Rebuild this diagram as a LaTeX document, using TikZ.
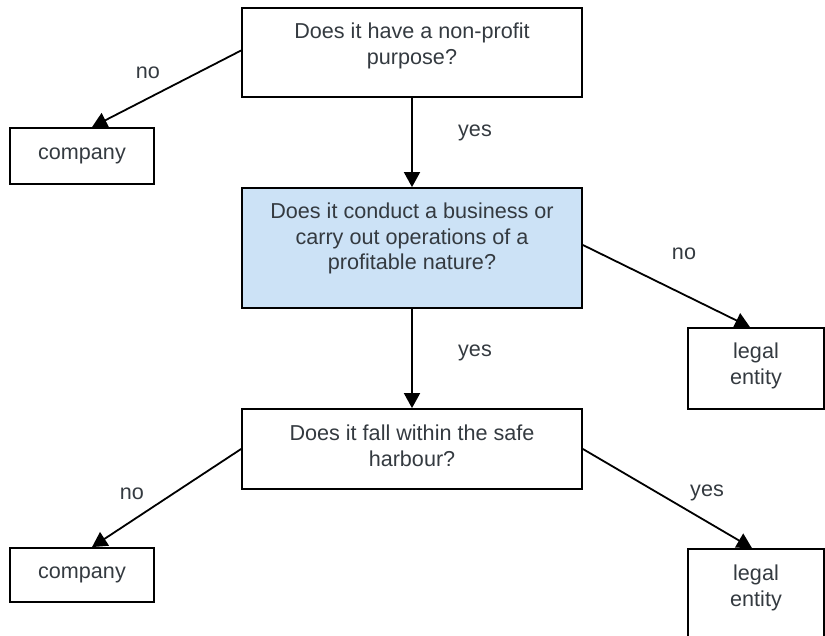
\documentclass[tikz,border=0pt]{standalone}
\usepackage{fontspec}
\setmainfont{Liberation Sans}
\usetikzlibrary{arrows.meta}
\definecolor{txt}{RGB}{52,58,64}
\definecolor{bluefill}{RGB}{204,226,246}
\tikzset{
  box/.style={draw=black, line width=1.8pt, inner sep=0pt, rectangle},
  lbl/.style={text=txt, font=\fontsize{21.6}{25.5}\selectfont, align=center, inner sep=0pt},
  conn/.style={draw=black, line width=1.8pt, -{Triangle[length=15pt,width=16pt]}}
}
\begin{document}
\begin{tikzpicture}[x=1pt,y=-1pt]
\useasboundingbox (0,0) rectangle (825,636);
\clip (0,0) rectangle (825,636);
% boxes
\node[box, minimum width=340pt, minimum height=89pt] (top) at (412,52.5) {};
\node[box, fill=bluefill, minimum width=340pt, minimum height=120pt] (mid) at (412,248) {};
\node[box, minimum width=340pt, minimum height=80pt] (q3) at (412,449) {};
\node[box, minimum width=144pt, minimum height=56pt] (comp1) at (82,156) {};
\node[box, minimum width=136pt, minimum height=81pt] (le1) at (756,368.5) {};
\node[box, minimum width=144pt, minimum height=54pt] (comp2) at (82,575) {};
\node[box, minimum width=136pt, minimum height=92pt] (le2) at (756,595) {};
% texts
\node[lbl] (ttop) at (412,46) {Does it have a non-profit\\purpose?};
\node[lbl] (tmid) at (412,238.5) {Does it conduct a business or\\carry out operations of a\\profitable nature?};
\node[lbl] (tq3) at (412,446) {Does it fall within the safe\\harbour?};
\node[lbl] (tc1) at (82,156) {company};
\node[lbl] (tl1) at (756,366) {legal\\entity};
\node[lbl] (tc2) at (82,575) {company};
\node[lbl] (tl2) at (756,588) {legal\\entity};
% connectors
\draw[conn] ([yshift=2pt]top.west) -- ([xshift=10pt]comp1.north);
\draw[conn] (top.south) -- (mid.north);
\draw[conn] ([yshift=3pt]mid.east) -- ([xshift=-6pt]le1.north);
\draw[conn] (mid.south) -- (q3.north);
\draw[conn] (q3.west) -- ([xshift=10pt]comp2.north);
\draw[conn] (q3.east) -- ([xshift=-4pt]le2.north);
% edge labels
\node[lbl] (n1) at (148,73) {no};
\node[lbl] (y1) at (475,133) {yes};
\node[lbl] (n2) at (684,254) {no};
\node[lbl] (y2) at (475,353) {yes};
\node[lbl] (n3) at (132,494) {no};
\node[lbl] (y3) at (707,493) {yes};
\end{tikzpicture}
\end{document}
